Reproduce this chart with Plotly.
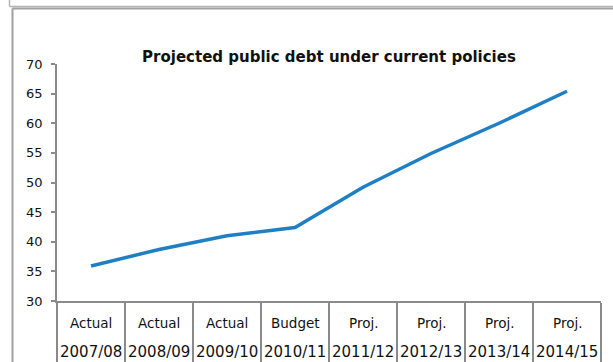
import plotly.graph_objects as go

# Fiscal years, their status row, and projected public debt values
years = ["2007/08", "2008/09", "2009/10", "2010/11", "2011/12", "2012/13", "2013/14", "2014/15"]
status = ["Actual", "Actual", "Actual", "Budget", "Proj.", "Proj.", "Proj.", "Proj."]
debt = [35.9, 38.7, 41.0, 42.4, 49.2, 54.9, 60.0, 65.4]
y_ticks = [30, 35, 40, 45, 50, 55, 60, 65, 70]

W, H = 613, 362
L, R, T, B = 57, 12, 64, 61
PW, PH = W - L - R, H - T - B

AXIS = "#8a8a8a"
FONT = "DejaVu Sans"


def px_x(px):
    return (px - L) / PW


def px_y(py):
    return (H - B - py) / PH


fig = go.Figure(
    go.Scatter(
        x=years,
        y=debt,
        mode="lines",
        line=dict(color="#1f7fc4", width=3.5),
        hoverinfo="x+y",
    )
)

annotations = []
for yr, st in zip(years, status):
    annotations.append(dict(x=yr, xref="x", y=px_y(323), yref="paper", text=st,
                            showarrow=False, font=dict(family=FONT, size=13.5, color="#111"),
                            xanchor="center", yanchor="middle"))
    annotations.append(dict(x=yr, xref="x", y=px_y(352), yref="paper", text=yr,
                            showarrow=False, font=dict(family=FONT, size=15, color="#111"),
                            xanchor="center", yanchor="middle"))

shapes = [
    # border of the box above
    dict(type="line", xref="paper", yref="paper", x0=px_x(9.5), x1=px_x(9.5), y0=px_y(-2), y1=px_y(6.5),
         line=dict(color="#b5b5b5", width=1.5)),
    dict(type="line", xref="paper", yref="paper", x0=px_x(9.5), x1=px_x(620), y0=px_y(6.5), y1=px_y(6.5),
         line=dict(color="#b5b5b5", width=1.5)),
    # chart frame
    dict(type="line", xref="paper", yref="paper", x0=px_x(12.5), x1=px_x(12.5), y0=px_y(8.5), y1=px_y(370),
         line=dict(color="#a0a0a0", width=2)),
    dict(type="line", xref="paper", yref="paper", x0=px_x(12.5), x1=px_x(620), y0=px_y(8.5), y1=px_y(8.5),
         line=dict(color="#a0a0a0", width=2)),
]

fig.update_layout(
    width=W,
    height=H,
    margin=dict(l=L, r=R, t=T, b=B, autoexpand=False),
    paper_bgcolor="white",
    plot_bgcolor="white",
    showlegend=False,
    title=dict(
        text="<b>Projected public debt under current policies</b>",
        x=0.5, xref="paper", xanchor="center",
        y=1 - 57 / H, yref="container", yanchor="middle",
        font=dict(family=FONT, size=15, color="#111"),
    ),
    xaxis=dict(
        type="category",
        range=[-0.5, len(years) - 0.5],
        automargin=False,
        showgrid=False,
        zeroline=False,
        showline=True,
        linecolor=AXIS,
        linewidth=1.5,
        ticks="outside",
        tickson="boundaries",
        ticklen=B + 5,
        tickwidth=1.5,
        tickcolor=AXIS,
        showticklabels=False,
    ),
    yaxis=dict(
        range=[30, 70],
        tickvals=y_ticks,
        automargin=False,
        showgrid=False,
        zeroline=False,
        showline=True,
        linecolor=AXIS,
        linewidth=1.5,
        ticks="outside",
        ticklen=4,
        tickwidth=1.5,
        tickcolor=AXIS,
        ticklabelstandoff=6,
        tickfont=dict(family=FONT, size=13, color="#111"),
    ),
    annotations=annotations,
    shapes=shapes,
)

fig.write_html("out.html")
